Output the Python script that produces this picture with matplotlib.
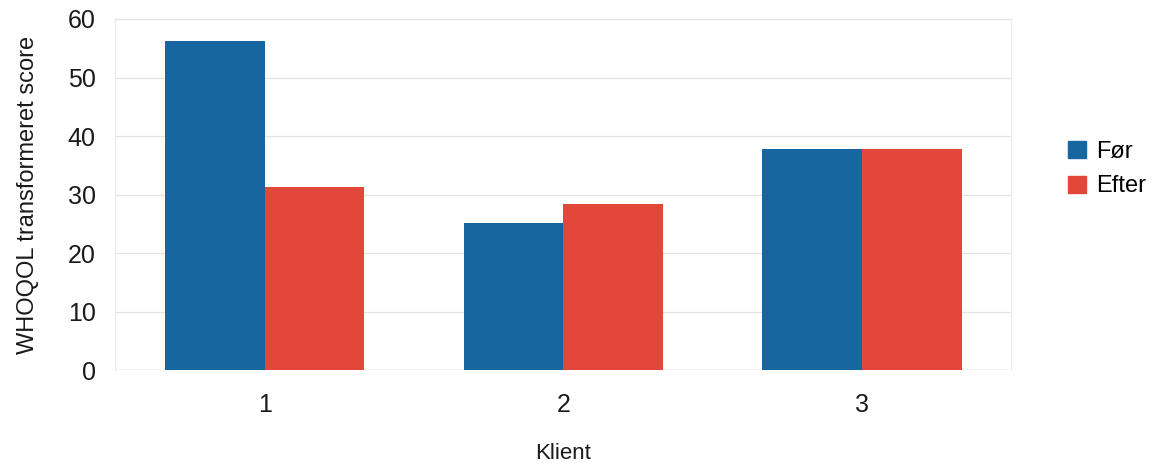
import numpy as np
import matplotlib
matplotlib.use('Agg')
from matplotlib import pyplot as plt
from matplotlib.patches import Patch

klienter = ['1', '2', '3']
foer = [56.3, 25.2, 37.8]
efter = [31.3, 28.4, 37.8]
series_names = ['Før', 'Efter']
yticks = [0, 10, 20, 30, 40, 50, 60]

blue = '#17669f'
red = '#e2473a'

plt.rcParams['font.family'] = ['Liberation Sans', 'DejaVu Sans']

fig = plt.figure(figsize=(11.52, 4.63), dpi=100)
ax = fig.add_axes([0.1, 0.2, 0.778, 0.759])

x = np.arange(len(klienter))
width = 1 / 3
ax.bar(x - width / 2, foer, width, color=blue, zorder=3)
ax.bar(x + width / 2, efter, width, color=red, zorder=3)

ax.set_xlim(-0.5, 2.5)
ax.set_ylim(0, 60)
ax.set_yticks(yticks)
ax.set_xticks(x)
ax.set_xticklabels(klienter)
ax.tick_params(axis='both', labelsize=18, length=0, colors='#1a1a1a')
ax.tick_params(axis='x', pad=16)
ax.tick_params(axis='y', pad=14)

ax.grid(axis='y', color='#e3e3e3', linewidth=0.9, zorder=0)
for s in ['top', 'bottom']:
    ax.spines[s].set_visible(False)
for s in ['left', 'right']:
    ax.spines[s].set_color('#ececec')
ax.axhline(0, color='#d8d8d8', linewidth=1, zorder=2)

ax.set_xlabel('Klient', fontsize=16, labelpad=19, color='#1a1a1a')
ax.set_ylabel('WHOQOL transformeret score', fontsize=17, labelpad=21,
              color='#1a1a1a')

handles = [Patch(color=blue), Patch(color=red)]
fig.legend(handles, series_names, loc='center left',
           bbox_to_anchor=(0.927, 0.635), frameon=False, fontsize=17,
           handlelength=0.75, handleheight=0.75, handletextpad=0.45,
           labelspacing=0.55, borderaxespad=0, borderpad=0)

fig.savefig('out.png', dpi=100)
